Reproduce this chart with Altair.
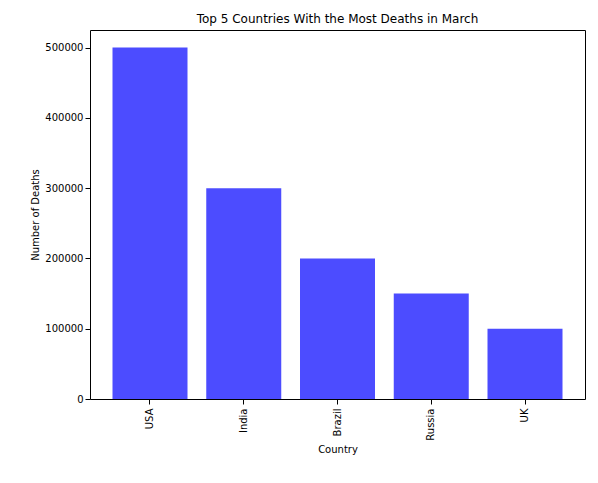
import altair as alt
import pandas as pd

countries = ["USA", "India", "Brazil", "Russia", "UK"]
deaths = [500000, 300000, 200000, 150000, 100000]

df = pd.DataFrame({"Country": countries, "Deaths": deaths})

chart = (
    alt.Chart(df)
    .mark_bar(color="#0000ff", opacity=0.7)
    .encode(
        x=alt.X("Country:N", sort=countries, title="Country",
                scale=alt.Scale(paddingInner=0.2, paddingOuter=0.24),
                axis=alt.Axis(labelAngle=270, labelFontSize=10, titleFontSize=10,
                              titleFontWeight="normal", labelColor="black",
                              domain=False, tickColor="black", labelFont="DejaVu Sans",
                              titleFont="DejaVu Sans", labelPadding=4)),
        y=alt.Y("Deaths:Q", title="Number of Deaths",
                scale=alt.Scale(domain=[0, 525000], nice=False),
                axis=alt.Axis(values=[0, 100000, 200000, 300000, 400000, 500000],
                              format="d", grid=False, domain=False,
                              labelFontSize=10, titleFontSize=10, titleFontWeight="normal",
                              labelColor="black", tickColor="black",
                              labelFont="DejaVu Sans", titleFont="DejaVu Sans")),
    )
    .properties(
        width=495, height=369,
        title=alt.TitleParams("Top 5 Countries With the Most Deaths in March",
                              fontSize=12, fontWeight="normal", font="DejaVu Sans"),
        autosize=alt.AutoSizeParams(type="none"),
        padding={"left": 82, "top": 22, "right": 5, "bottom": 60},
    )
    .configure_view(stroke="black", strokeWidth=1)
)

chart.save("out.html", embed_options={"renderer": "svg", "actions": False})
